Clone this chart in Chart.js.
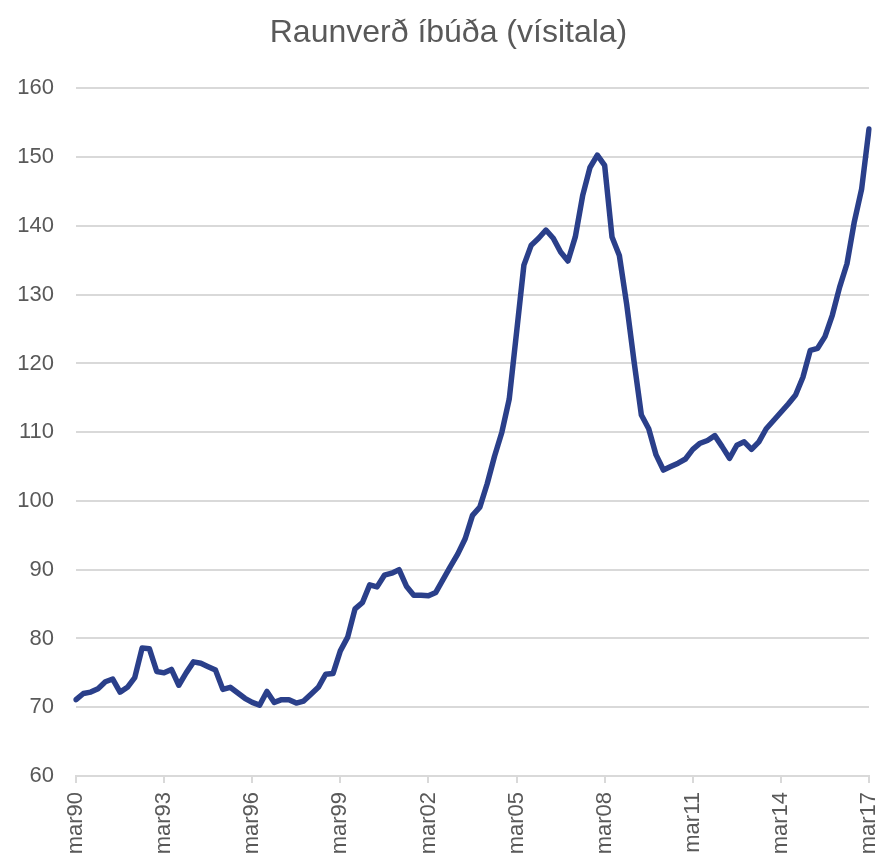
<!DOCTYPE html>
<html>
<head>
<meta charset="utf-8">
<script src="https://cdn.jsdelivr.net/npm/chart.js@4"></script>
<style>
  body { margin: 0; background: #fff; }
  #wrap { width: 881px; height: 860px; }
</style>
</head>
<body>
<div id="wrap"><canvas id="chart" width="881" height="860"></canvas></div>
<script>
// ársfjórðungsleg gögn, mar90 - mar17
const years = ['90','91','92','93','94','95','96','97','98','99','00','01','02','03','04','05','06','07','08','09','10','11','12','13','14','15','16','17'];
const months = ['mar', 'jún', 'sep', 'des'];

const raunverd = [
  71.1, 72.0, 72.2, 72.7,
  73.7, 74.1, 72.2, 72.9,
  74.3, 78.6, 78.5, 75.2,
  75.0, 75.5, 73.2, 75.0,
  76.6, 76.4, 75.9, 75.4,
  72.6, 72.9, 72.1, 71.3,
  70.7, 70.3, 72.3, 70.7,
  71.1, 71.1, 70.6, 70.9,
  71.9, 72.9, 74.8, 74.9,
  78.2, 80.2, 84.3, 85.2,
  87.8, 87.5, 89.2, 89.5,
  90.0, 87.6, 86.3, 86.3,
  86.2, 86.7, 88.6, 90.5,
  92.3, 94.5, 97.9, 99.1,
  102.5, 106.5, 110.0, 114.8,
  124.5, 134.3, 137.2, 138.2,
  139.4, 138.2, 136.2, 134.9,
  138.4, 144.4, 148.5, 150.3,
  148.8, 138.4, 135.7, 128.6,
  120.3, 112.5, 110.5, 106.7,
  104.5, 105.0, 105.5, 106.1,
  107.5, 108.4, 108.8, 109.5,
  107.9, 106.2, 108.1, 108.6,
  107.5, 108.6, 110.5, 111.7,
  112.9, 114.1, 115.4, 118.0,
  121.9, 122.2, 123.9, 127.0,
  131.1, 134.5, 140.6, 145.4,
  154.1
];

const labels = [];
years.forEach(y => months.forEach(m => labels.push(m + y)));
labels.length = raunverd.length;

const textColor = '#595959';
const gridColor = '#d9d9d9';
const fontFamily = 'Liberation Sans, Arial, sans-serif';

new Chart(document.getElementById('chart').getContext('2d'), {
  type: 'line',
  data: {
    labels: labels,
    datasets: [{
      label: 'Raunverð íbúða',
      data: raunverd,
      borderColor: '#2a3f8a',
      borderWidth: 5.5,
      borderJoinStyle: 'round',
      borderCapStyle: 'round',
      pointRadius: 0,
      tension: 0,
      fill: false
    }]
  },
  options: {
    responsive: false,
    animation: false,
    layout: { padding: { left: 16, right: 0, top: 0, bottom: 0 } },
    plugins: {
      legend: { display: false },
      tooltip: { enabled: false },
      title: {
        display: true,
        text: 'Raunverð íbúða (vísitala)',
        color: textColor,
        font: { family: fontFamily, size: 32, weight: 'normal' },
        padding: { top: 14, bottom: 36 }
      }
    },
    scales: {
      x: {
        offset: false,
        afterBuildTicks: scale => {
          scale.ticks = scale.ticks.filter((t, i) => i % 12 === 0);
        },
        afterFit: scale => {
          scale.height = 84;
          scale.paddingLeft = 0;
          scale.paddingRight = 12;
        },
        grid: { drawOnChartArea: false, drawTicks: true, tickLength: 7, color: gridColor, lineWidth: 2 },
        border: { display: true, color: gridColor, width: 2 },
        ticks: {
          autoSkip: false,
          maxRotation: 90,
          minRotation: 90,
          padding: 9,
          color: textColor,
          font: { family: fontFamily, size: 22 }
        }
      },
      y: {
        min: 60,
        max: 160,
        afterFit: scale => { scale.width = 60; },
        grid: { drawTicks: false, color: gridColor, lineWidth: 2 },
        border: { display: false },
        ticks: {
          stepSize: 10,
          padding: 22,
          color: textColor,
          font: { family: fontFamily, size: 22 }
        }
      }
    }
  }
});
</script>
</body>
</html>
